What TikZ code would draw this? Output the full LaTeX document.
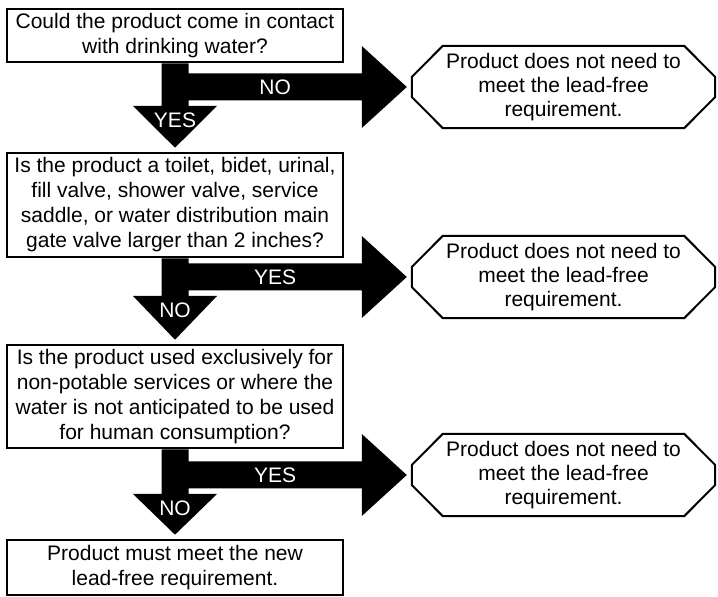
\documentclass[tikz,border=0pt]{standalone}
\usepackage{fontspec}
\setmainfont{Liberation Sans}
\usetikzlibrary{calc}
\tikzset{
  qbox/.style={draw=black, line width=2.6pt, minimum width=336pt, inner sep=0pt, align=center,
    font=\fontsize{21}{25}\selectfont},
  endbox/.style={draw=none, minimum width=303pt, minimum height=82pt, inner sep=0pt, align=center,
    font=\fontsize{21}{24}\selectfont},
  octline/.style={draw=black, line width=2pt, line join=miter},
  lbl/.style={text=white, inner sep=0pt, font=\fontsize{21}{25}\selectfont},
}
\newcommand\octoutline[1]{%
  \draw[octline] ([xshift=31pt]#1.north west) -- ([xshift=-31pt]#1.north east)
    -- ([yshift=10pt]#1.east) -- ([yshift=-10pt]#1.east)
    -- ([xshift=-31pt]#1.south east) -- ([xshift=31pt]#1.south west)
    -- ([yshift=-10pt]#1.west) -- ([yshift=10pt]#1.west) -- cycle;}
% #1 source box, #2 side target, #3 next box, #4 side label, #5 down label, #6 name prefix
\newcommand\fatarrow[6]{%
  \fill[black] let \p1=(#1.south), \p2=(#2.west), \p3=(#3.north) in
    (\x1-13.5pt,\y1) -- (\x1+13.5pt,\y1) -- (\x1+13.5pt,\y2+13.5pt)
    -- (\x2-50pt,\y2+13.5pt) -- (\x2-50pt,\y2+41pt) -- (\x2-5pt,\y2)
    -- (\x2-50pt,\y2-41pt) -- (\x2-50pt,\y2-13.5pt) -- (\x1+13.5pt,\y2-13.5pt)
    -- (\x1+13.5pt,\y2-19pt) -- (\x1+42pt,\y2-19pt) -- (\x1,\y3+4pt)
    -- (\x1-42pt,\y2-19pt) -- (\x1-13.5pt,\y2-19pt) -- cycle;
  \path let \p1=(#1.south), \p2=(#2.west) in
    node[lbl] (#6h) at ({(\x1+13.5pt+\x2-50pt)/2}, \y2) {#4}
    node[lbl] (#6v) at (\x1, \y2-33pt) {#5};}
\begin{document}
\begin{tikzpicture}[x=1pt,y=1pt]
\useasboundingbox (0,0) rectangle (718,597);
\fill[white] (0,0) rectangle (718,597);
\node[qbox, minimum height=53pt] (b1) at (175,561.5)
  {Could the product come in contact\\with drinking water?};
\node[qbox, minimum height=104pt] (b2) at (175,392)
  {Is the product a toilet, bidet, urinal,\\fill valve, shower valve, service\\saddle, or water distribution main\\gate valve larger than 2 inches?};
\node[qbox, minimum height=103pt] (b3) at (175,200.5)
  {Is the product used exclusively for\\non-potable services or where the\\water is not anticipated to be used\\for human consumption?};
\node[qbox, minimum height=55pt] (b4) at (175,29.5)
  {Product must meet the new\\lead-free requirement.};
\node[endbox] (o1) at (563.5,510) {Product does not need to\\meet the lead-free\\requirement.};
\node[endbox] (o2) at (563.5,320) {Product does not need to\\meet the lead-free\\requirement.};
\node[endbox] (o3) at (563.5,122) {Product does not need to\\meet the lead-free\\requirement.};
\octoutline{o1}
\octoutline{o2}
\octoutline{o3}
\fatarrow{b1}{o1}{b2}{NO}{YES}{a1}
\fatarrow{b2}{o2}{b3}{YES}{NO}{a2}
\fatarrow{b3}{o3}{b4}{YES}{NO}{a3}
\end{tikzpicture}
\end{document}
